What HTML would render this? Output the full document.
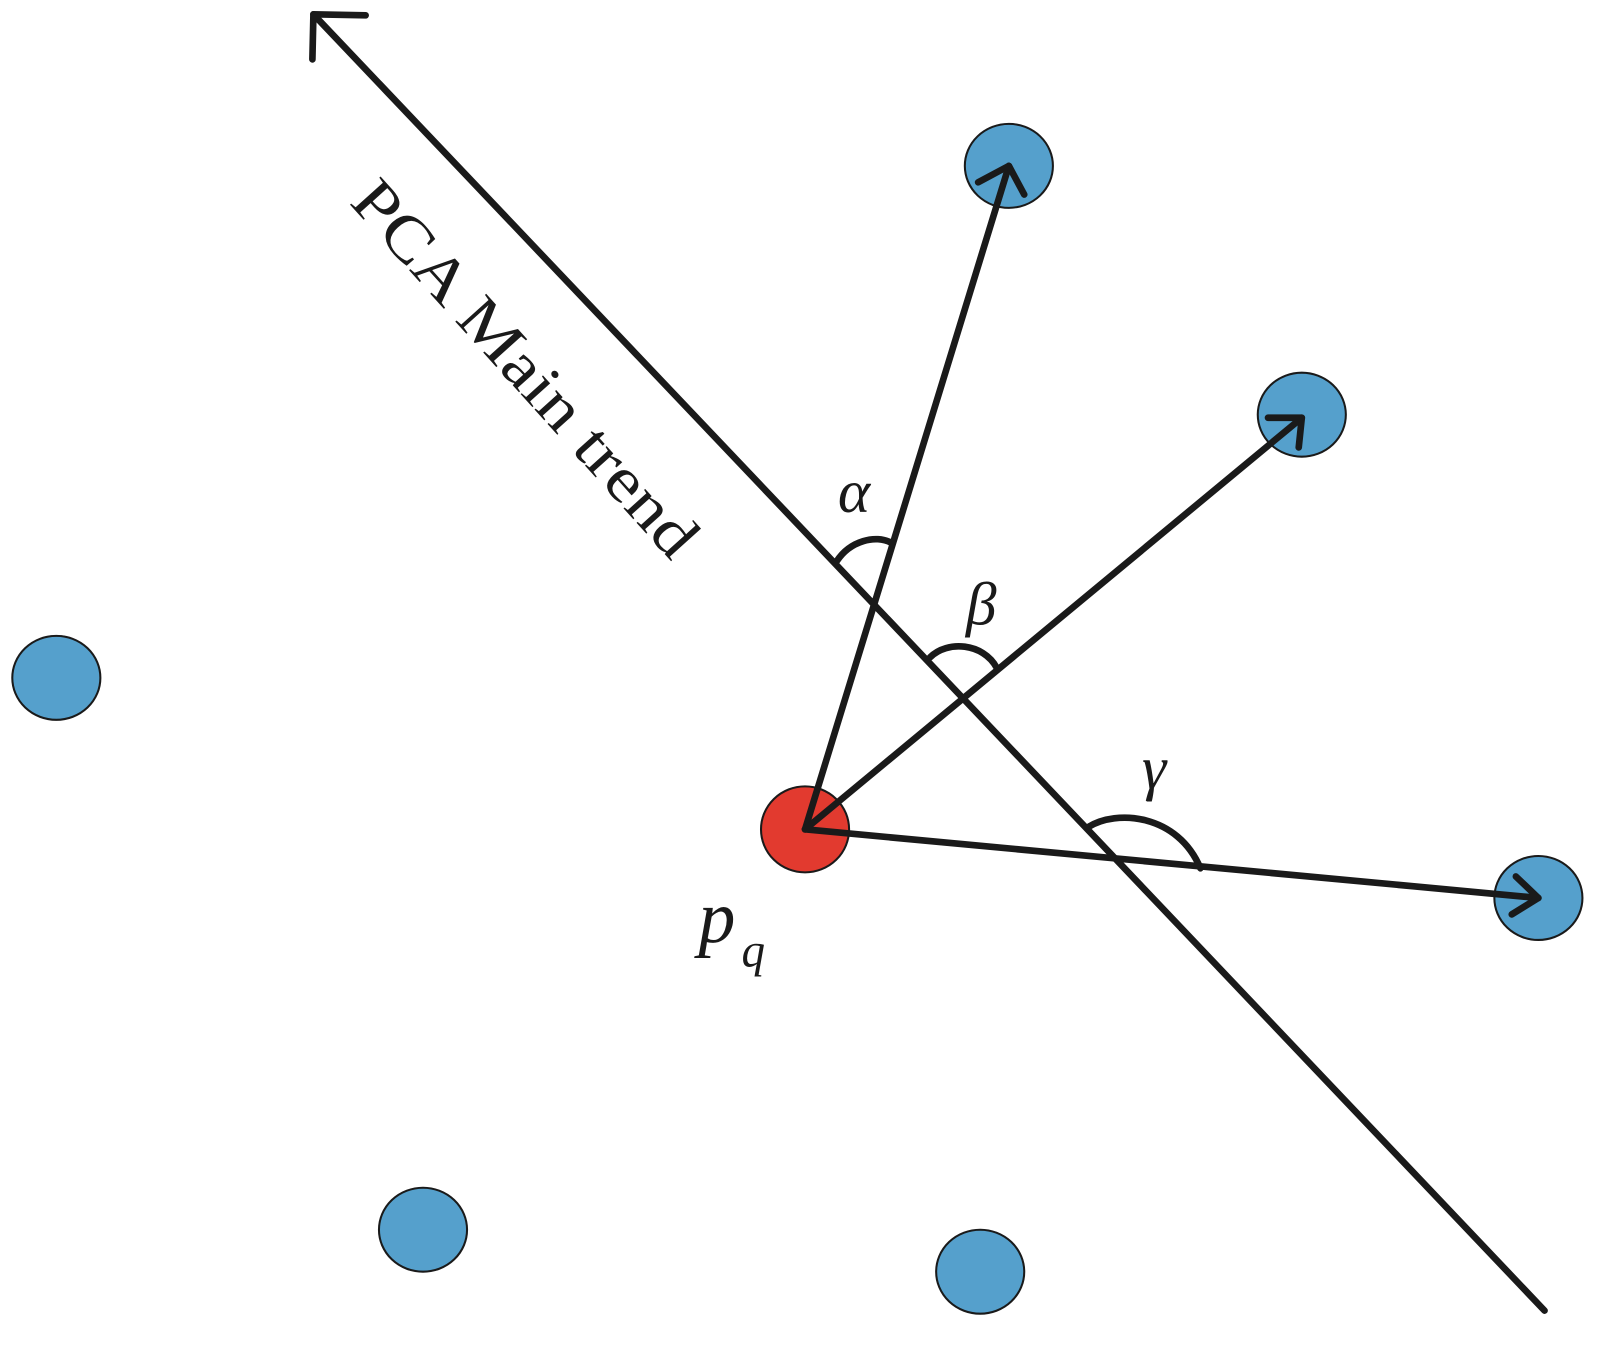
<!DOCTYPE html>
<html><head><meta charset="utf-8"><style>html,body{margin:0;padding:0;background:#fff}svg{display:block}text{font-family:"Liberation Serif","Times New Roman",serif}</style></head>
<body>
<svg width="1606" height="1370" viewBox="0 0 1568 1338" preserveAspectRatio="none" xmlns="http://www.w3.org/2000/svg">
<g fill="#55a0cc" stroke="#1a1a1a" stroke-width="2">
<ellipse cx="985" cy="162" rx="43" ry="41"/>
<ellipse cx="1271" cy="405" rx="43" ry="41"/>
<ellipse cx="1502" cy="877" rx="43" ry="41"/>
<ellipse cx="55" cy="662" rx="43" ry="41"/>
<ellipse cx="413" cy="1201" rx="43" ry="41"/>
<ellipse cx="957" cy="1242" rx="43" ry="41"/>
</g>
<ellipse cx="786" cy="810" rx="43" ry="42" fill="#e23a2f" stroke="#1a1a1a" stroke-width="2"/>
<g stroke="#1a1a1a" stroke-width="6.5" fill="none" stroke-linecap="round" stroke-linejoin="round">
<line x1="1508" y1="1280" x2="306" y2="14"/>
<polyline points="357,15 306,14 305,58"/>
<line x1="786" y1="810" x2="985" y2="162"/>
<polyline points="955,178 985,162 1000,190"/>
<line x1="786" y1="810" x2="1271" y2="408"/>
<polyline points="1238,408 1271,408 1268,437"/>
<line x1="786" y1="810" x2="1502" y2="877"/>
<polyline points="1480,856 1502,877 1476,893"/>
<path d="M817,548 C830,528 855,522 870,530"/>
<path d="M908,642 C925,625 960,628 973,652"/>
<path d="M1062,808 C1090,790 1150,795 1172,848"/>
</g>
<g font-style="italic" fill="#1a1a1a">
<text x="818" y="500" style="font-size:60px">α</text>
<text x="943" y="610" style="font-size:60px">β</text>
<text x="1115" y="770" style="font-size:60px">γ</text>
<text x="682" y="920" style="font-size:72px">p</text>
<text x="724" y="944" style="font-size:46px">q</text>
</g>
<text x="0" y="0" transform="translate(340,198) rotate(48)" style="font-size:62px" fill="#1a1a1a" textLength="472" lengthAdjust="spacingAndGlyphs">PCA Main trend</text>
</svg>
</body></html>
